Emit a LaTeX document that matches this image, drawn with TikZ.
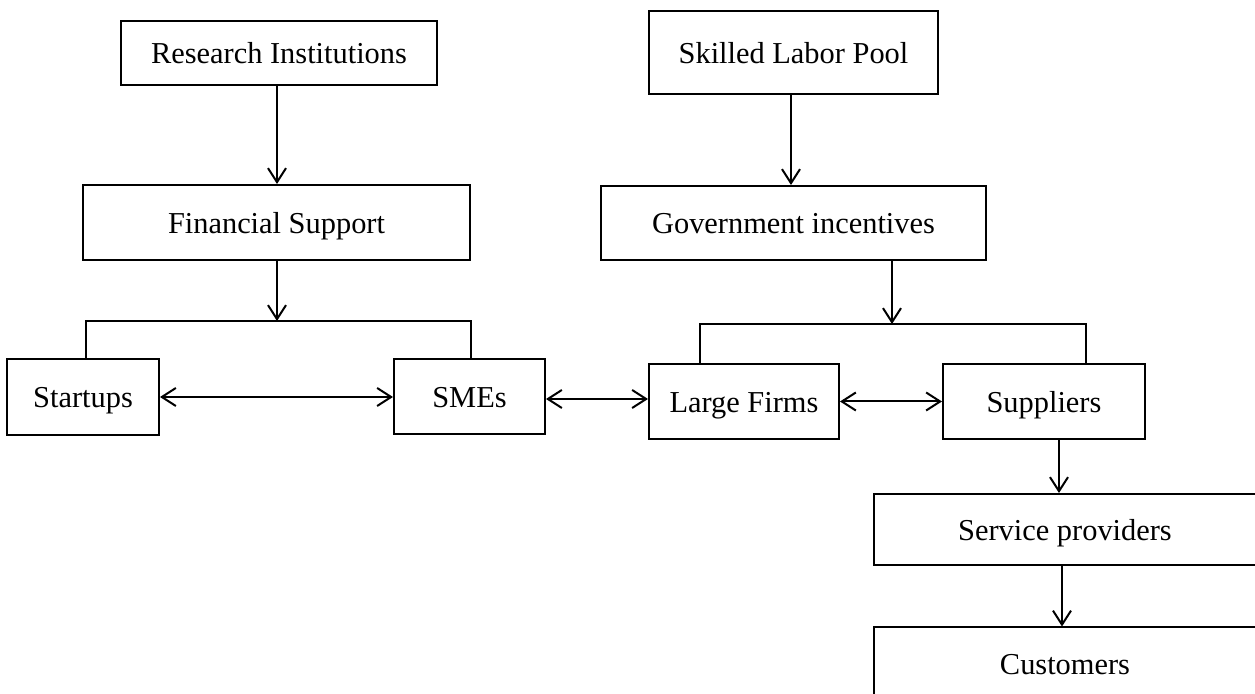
\documentclass[tikz,border=0pt]{standalone}
\usepackage{fontspec}
\setmainfont{Liberation Serif}
\usetikzlibrary{arrows.meta}
\begin{document}
\begin{tikzpicture}[x=0.5pt,y=-0.5pt,
  box/.style={draw, line width=1pt, inner sep=0pt, align=center,
    text height=11pt, text depth=0pt,
    font=\fontsize{15.2}{18}\selectfont},
  conn/.style={line width=1pt},
  arr/.style={conn, -{Straight Barb[length=7pt,width=9pt]}},
  darr/.style={conn, {Straight Barb[length=7pt,width=9pt]}-{Straight Barb[length=7pt,width=9pt]}}]
\clip (0,0) rectangle (1255,694);
\fill[white] (0,0) rectangle (1255,694);
\node[box, minimum width=158pt, minimum height=32pt] (ri) at (279,53) {Research Institutions};
\node[box, minimum width=144.5pt, minimum height=41.5pt] (slp) at (793.5,52.5) {Skilled Labor Pool};
\node[box, minimum width=193.5pt, minimum height=37.5pt] (fs) at (276.5,222.5) {Financial Support};
\node[box, minimum width=192.5pt, minimum height=37pt] (gi) at (793.5,223) {Government incentives};
\node[box, minimum width=76pt, minimum height=38pt] (st) at (83,397) {Startups};
\node[box, minimum width=75.5pt, minimum height=37.5pt] (sm) at (469.5,396.5) {SMEs};
\node[box, minimum width=95pt, minimum height=37.5pt] (lf) at (744,401.5) {Large Firms};
\node[box, minimum width=101pt, minimum height=37.5pt] (su) at (1044,401.5) {Suppliers};
\node[box, minimum width=191pt, minimum height=35.5pt] (sp) at (1065,529.5) {Service providers};
\node[box, minimum width=191pt, minimum height=36pt] (cu) at (1065,663.5) {Customers};
% bracket coordinates
\coordinate (bl1) at (86,321);
\coordinate (br1) at (471,321);
\coordinate (bl2) at (700,324);
\coordinate (br2) at (1086,324);
\coordinate (g2) at (892,324);
\coordinate (f2) at (277,321);
\coordinate (m1) at (597,399);
\coordinate (c1) at (1059,470);
\coordinate (c2) at (1062,596);
\coordinate (s1) at (791,140);
% vertical arrows
\draw[arr] (ri.south -| f2) -- (fs.north -| f2);
\draw[arr] (fs.south -| f2) -- (f2);
\draw[arr] (slp.south -| s1) -- (gi.north -| s1);
\draw[arr] (gi.south -| g2) -- (g2);
% brackets
\draw[conn] (st.north -| bl1) -- (bl1) -- (br1) -- (sm.north -| br1);
\draw[conn] (lf.north -| bl2) -- (bl2) -- (br2) -- (su.north -| br2);
% horizontal double arrows
\draw[darr] (st.east) -- (st.east -| sm.west);
\draw[darr] (m1 -| sm.east) -- (m1 -| lf.west);
\draw[darr] (lf.east) -- (su.west);
% lower chain
\draw[arr] (su.south -| c1) -- (sp.north -| c1);
\draw[arr] (sp.south -| c2) -- (cu.north -| c2);
\end{tikzpicture}
\end{document}
